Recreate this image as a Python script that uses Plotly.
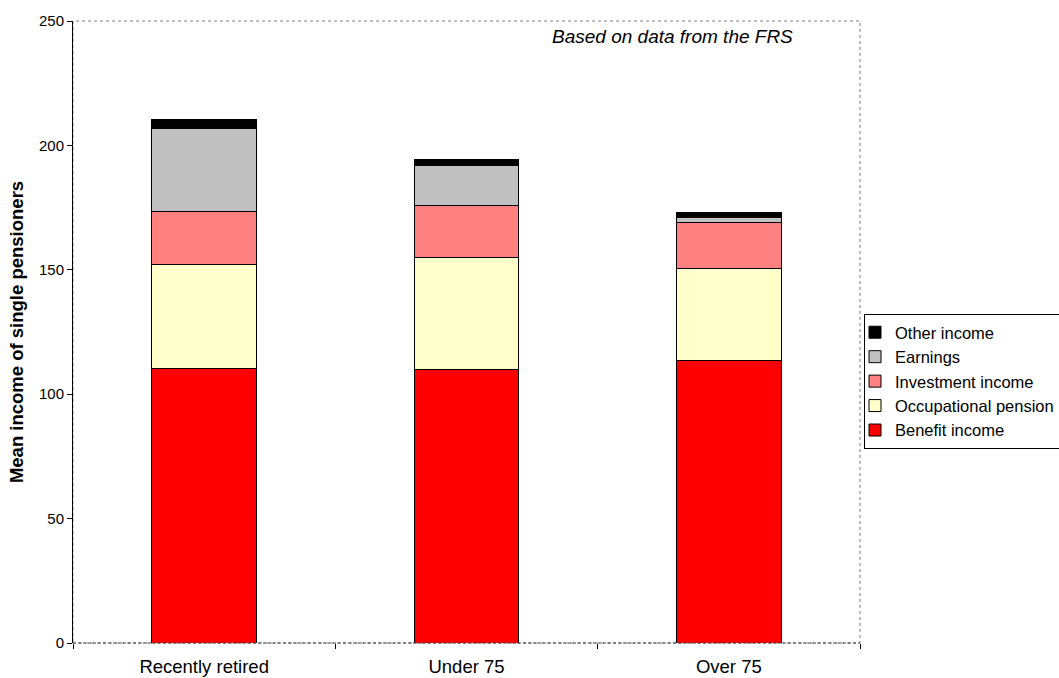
import plotly.graph_objects as go

# Mean weekly income of single pensioners, split by source
categories = ["Recently retired", "Under 75", "Over 75"]

benefit_income = [110.5, 109.8, 113.4]
occupational_pension = [41.8, 45.3, 37.3]
investment_income = [21.1, 20.6, 18.2]
earnings = [33.5, 16.2, 2.1]
other_income = [3.6, 2.6, 2.0]

series_names = ["Benefit income", "Occupational pension", "Investment income",
                "Earnings", "Other income"]
series_values = [benefit_income, occupational_pension, investment_income,
                 earnings, other_income]
series_colors = ["#FF0000", "#FFFFCC", "#FF8080", "#C0C0C0", "#000000"]

y_ticks = [0, 50, 100, 150, 200, 250]

W, H = 1059, 678
ML, MR, MT, MB = 73, 199, 21, 35
PW, PH = W - ML - MR, H - MT - MB

fig = go.Figure()
for name, vals, col in zip(series_names, series_values, series_colors):
    fig.add_trace(go.Bar(
        x=categories, y=vals, name=name,
        marker=dict(color=col, line=dict(color="#000000", width=1)),
        width=0.4,
    ))

font = "Liberation Sans, Arial, sans-serif"

fig.update_layout(
    width=W, height=H,
    margin=dict(l=ML, r=MR, t=MT, b=MB, autoexpand=False),
    barmode="stack",
    plot_bgcolor="white", paper_bgcolor="white",
    font=dict(family=font, color="#000000"),
    showlegend=True,
    legend=dict(
        xref="container", yref="container",
        x=864 / W, y=1 - 314 / H, xanchor="left", yanchor="top",
        traceorder="reversed",
        bordercolor="#000000", borderwidth=1, bgcolor="white",
        font=dict(size=16.5, family=font),
        itemwidth=30, indentation=-10,
        tracegroupgap=0,
    ),
    xaxis=dict(
        type="category", tickson="boundaries",
        ticks="outside", ticklen=5, tickcolor="#000000",
        showline=False, showgrid=False, zeroline=False,
        tickfont=dict(size=18.5, family=font),
        ticklabelstandoff=10,
    ),
    yaxis=dict(
        range=[0, 250], tickvals=y_ticks, ticks="outside", ticklen=5,
        tickcolor="#000000", showline=True, linecolor="#000000", linewidth=1,
        showgrid=False, zeroline=False,
        tickfont=dict(size=15, family=font),
        title=dict(text="<b>Mean income of single pensioners</b>",
                   font=dict(size=18.5, family=font), standoff=10),
    ),
    shapes=[
        # dotted frame around the plotting area
        dict(type="rect", xref="paper", yref="paper", x0=0, x1=1, y0=0, y1=1,
             line=dict(color="#808080", width=1, dash="dot"), layer="below"),
        dict(type="line", xref="paper", yref="paper", x0=0, x1=1, y0=0, y1=0,
             line=dict(color="#404040", width=1, dash="3px,2px"), layer="above"),
    ],
    annotations=[
        dict(text="<i>Based on data from the FRS</i>", xref="paper", yref="paper",
             x=(795 - ML) / PW, y=1 - 16 / PH,
             xanchor="right", yanchor="middle", showarrow=False,
             font=dict(size=19, family=font)),
    ],
)

fig.write_html("out.html")
